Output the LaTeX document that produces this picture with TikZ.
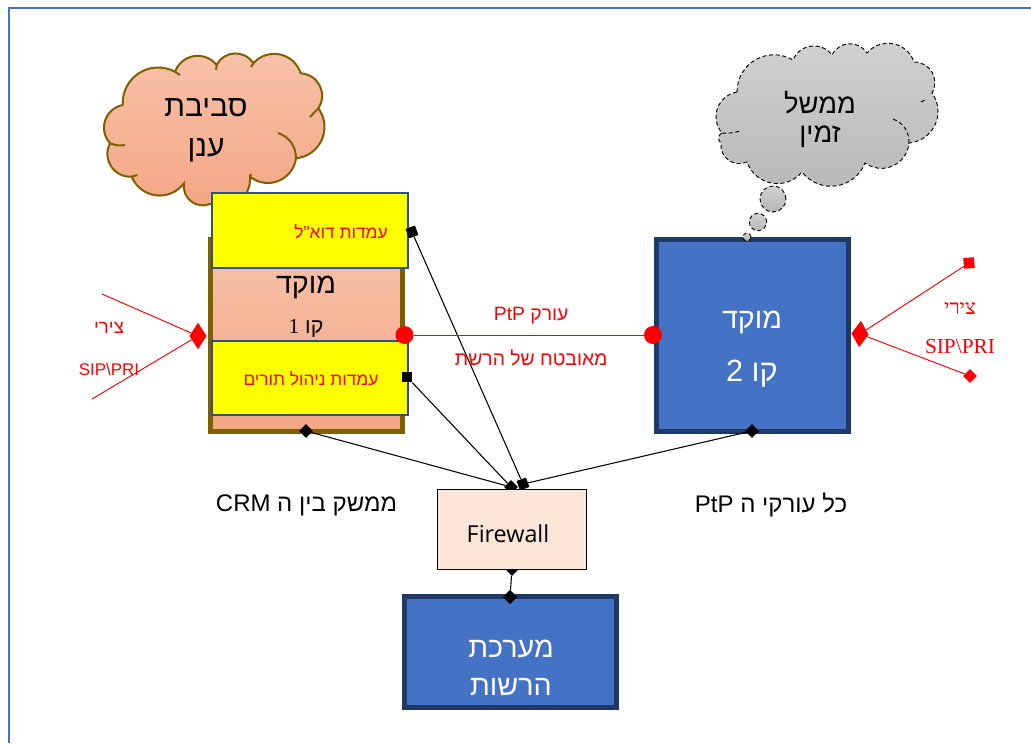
\documentclass[tikz,border=0pt]{standalone}
\usepackage{fontspec}
\usepackage{xcolor}
\usetikzlibrary{calc,positioning,shapes.geometric}
\setmainfont{Liberation Sans}
\newfontfamily\hebfont[Script=Hebrew]{Liberation Sans}
\newfontfamily\serfont[Script=Hebrew]{Liberation Serif}
\newfontfamily\latfont{Open Sans}
\TeXXeTstate=1
\definecolor{cloudtop}{HTML}{F7C2AB}
\definecolor{cloudbot}{HTML}{F4A683}
\definecolor{brownline}{HTML}{7F6000}
\definecolor{navyline}{HTML}{1F3864}
\definecolor{midblue}{HTML}{4472C4}
\definecolor{boxline}{HTML}{2F5080}
\definecolor{fwfill}{HTML}{FBE5D6}
\definecolor{pureyellow}{HTML}{FFFF00}
\definecolor{purered}{HTML}{FF0000}
\newcommand{\heb}[1]{{\hebfont\beginR #1\endR}}
\newcommand{\sz}[1]{\fontsize{#1}{#1}\selectfont}
\begin{document}
\begin{tikzpicture}[x=0.75pt,y=-0.75pt]
    \tikzset{
        lobe/.style={bend left=60,looseness=1.15},
        orangefill/.style={top color=cloudtop,bottom color=cloudbot},
        grayfill/.style={top color=black!18,bottom color=black!28},
        bigbox/.style={rectangle,draw=navyline,line width=3.75pt,fill=midblue,inner sep=0pt},
        yellowbox/.style={rectangle,draw=boxline,line width=1.6pt,fill=pureyellow,minimum width=147pt,inner sep=0pt},
        blackdia/.style={diamond,fill=black,inner sep=0pt,minimum size=10.5pt},
        blacksq/.style={rectangle,fill=black,inner sep=0pt,minimum size=7.5pt},
        reddia/.style={diamond,fill=purered,inner sep=0pt,minimum width=13pt,minimum height=20pt},
        redsq/.style={rectangle,fill=purered,inner sep=0pt,minimum size=8pt},
        reddot/.style={circle,fill=purered,inner sep=0pt,minimum size=13.5pt},
        blackline/.style={draw=black,line width=0.8pt},
        redline/.style={draw=purered,line width=0.7pt},
        redtext/.style={text=purered,inner sep=0pt},
        plaintext/.style={inner sep=0pt},
        whitetext/.style={inner sep=0pt,text=white},
        thought/.style={circle,draw=black,densely dashed,line width=0.7pt,grayfill,inner sep=0pt},
    }
    \useasboundingbox (0,0) rectangle (1031,743);
    % frame
    \draw[midblue,line width=1.5pt] (9,743) -- (9,8) -- (1031,8);

    % first cloud
    \draw[brownline,line width=1.5pt,orangefill]
        (122.7,105) to[lobe] (175,71.7) to[lobe] (216.7,65) to[lobe] (253.3,63.3)
        to[lobe] (300.7,73.3) to[lobe] (318.3,108.3) to[lobe] (296,158.3)
        to[lobe] (250,176.7) to[lobe] (210,204) to[lobe] (184,183.3)
        to[lobe] (131.7,176.7) to[lobe] (110,143.3) to[lobe] cycle;
    \draw[brownline,line width=1.5pt]
        (296,158.3) to[bend right=35] (278,133)
        (175,71.7) -- (180,75) (216.7,65) -- (216,70) (253.3,63.3) -- (251,67)
        (318.3,108.3) -- (310,117) (131.7,176.7) -- (137.3,175) (110,143.3) to[bend right=15] (125,145)
        (250,176.7) -- (251,174);

    % second cloud
    \draw[black,line width=0.7pt,densely dashed,grayfill]
        (737,92) to[lobe] (793,60) to[lobe] (832,55) to[lobe] (867,53)
        to[lobe] (914,62) to[lobe] (932,93) to[lobe] (909,143)
        to[lobe] (865,163) to[lobe] (802,172) to[lobe] (747,162)
        to[lobe] (721,143) to[lobe] (722,133) to[lobe] cycle;
    \draw[black,line width=0.7pt,densely dashed]
        (909,143) to[bend right=35] (893,119)
        (921,102) -- (925,100) (722,133) to[bend right=10] (740,131);

    \node[plaintext] (cloudtexta) at (206,108) {\sz{22.5}\heb{סביבת}};
    \node[plaintext] (cloudtextb) at (206,150) {\sz{22.5}\heb{ענן}};
    \node[plaintext] (graytexta) at (820,103) {\sz{20.5}\heb{ממשל}};
    \node[plaintext] (graytextb) at (820,137) {\sz{20.5}\heb{זמין}};

    \node[thought,minimum size=19.5pt] (bubble1) at (773,199) {};
    \node[thought,minimum size=13pt] (bubble2) at (758,222) {};

    % first center
    \node[rectangle,draw=brownline,line width=3.75pt,orangefill,minimum width=144pt,minimum height=144pt,inner sep=0pt] (center1) at (306,335.5) {};
    \node[yellowbox,minimum height=56pt] (email) at (310,230.5) {};
    \node[yellowbox,minimum height=56pt] (queue) at (310,378) {};
    \node[redtext] (emailtext) at (341,232) {\sz{13}\heb{עמדות דוא"ל}};
    \node[redtext] (queuetext) at (311,379) {\sz{13}\heb{עמדות ניהול תורים}};
    \node[plaintext] (center1a) at (306,287) {\sz{21.5}\heb{מוקד}};
    \node[plaintext] (center1b) at (306,328) {\sz{16}\heb{קו {\serfont 1}}};

    % second center
    \node[bigbox,minimum width=144pt,minimum height=144pt] (center2) at (752,335.5) {};
    \node[whitetext] (center2a) at (752,322) {\sz{21.5}\heb{מוקד}};
    \node[whitetext] (center2b) at (752,374) {\sz{23}\heb{קו 2}};
    \node[thought,minimum size=6pt] (bubble3) at (747,237) {};

    % ports
    \node[blacksq,rotate=20] (portemail) at (412,232) {};
    \node[blacksq,minimum size=8pt] (portqueue) at (407,377) {};
    \node[blackdia] (portcenter1) at (306,431) {};
    \node[blackdia] (portcenter2) at (752,431) {};
    \node[blacksq,rotate=20] (portfwa) at (523,484) {};
    \node[blackdia] (portfwb) at (511,487) {};
    \node[blackdia] (portfwc) at (512,569) {};

    \draw[blackline] (portemail) -- (portfwa);
    \draw[blackline] (portcenter2) -- (portfwa);
    \draw[blackline] (portqueue) -- (portfwb);
    \draw[blackline] (portcenter1) -- (portfwb);

    % firewall
    \node[rectangle,draw=black,line width=0.7pt,fill=fwfill,minimum width=112pt,minimum height=60pt,inner sep=0pt] (firewall) at (512,529) {};
    \node[plaintext] (firewalltext) at (508,534) {\latfont\sz{17.5}Firewall};
    \node[bigbox,minimum width=159pt,minimum height=83pt,below=18.5pt of firewall,xshift=-1.1pt] (net) {};
    \node[whitetext] (nettexta) at (511,649) {\sz{21.5}\heb{מערכת}};
    \node[whitetext] (nettextb) at (511,687) {\sz{21.5}\heb{הרשות}};
    \node[blackdia,minimum size=11pt] (portnet) at (510,597) {};
    \draw[blackline] (portfwc) -- (portnet);

    % red link
    \node[reddot] (linka) at (404.5,335) {};
    \node[reddot] (linkb) at (653,335) {};
    \draw[redline] (linka) -- (linkb);
    \coordinate (linkmid) at ($(linka)!0.51!(linkb)$);
    \node[redtext,above=8pt of linkmid] (linktexta) {\sz{14.5}\heb{עורק \beginL PtP\endL}};
    \node[redtext,below=11pt of linkmid] (linktextb) {\sz{14.5}\heb{מאובטח של הרשת}};

    % left lines
    \node[reddia] (leftdia) at (198,336) {};
    \coordinate (lefta) at (102,294);
    \coordinate (leftb) at (92,399);
    \draw[redline] (lefta) -- (leftdia);
    \draw[redline] (leftb) -- (leftdia);
    \node[redtext] (lefttexta) at (109,328) {\sz{14}\heb{צירי}};
    \node[redtext] (lefttextb) at (109,369) {\sz{12.7}SIP\textbackslash PRI};

    % right lines
    \node[reddia,rotate=-4] (rightdia) at (860,334) {};
    \node[redsq,rotate=5] (righta) at (969,263) {};
    \node[redsq,diamond,minimum size=10.5pt] (rightb) at (970,376) {};
    \draw[redline] (righta) -- (rightdia);
    \draw[redline] (rightb) -- (rightdia);
    \node[redtext] (righttexta) at (960,308) {\serfont\sz{15.5}\beginR צירי\endR};
    \node[redtext] (righttextb) at (960,347) {\serfont\sz{16}SIP\textbackslash PRI};

    % lower labels
    \node[plaintext] (crmtext) at (306.5,505) {\sz{18}\heb{ממשק בין ה \beginL CRM\endL}};
    \node[plaintext] (ptptext) at (771,505) {\sz{18}\heb{כל עורקי ה \beginL PtP\endL}};
\end{tikzpicture}
\end{document}
